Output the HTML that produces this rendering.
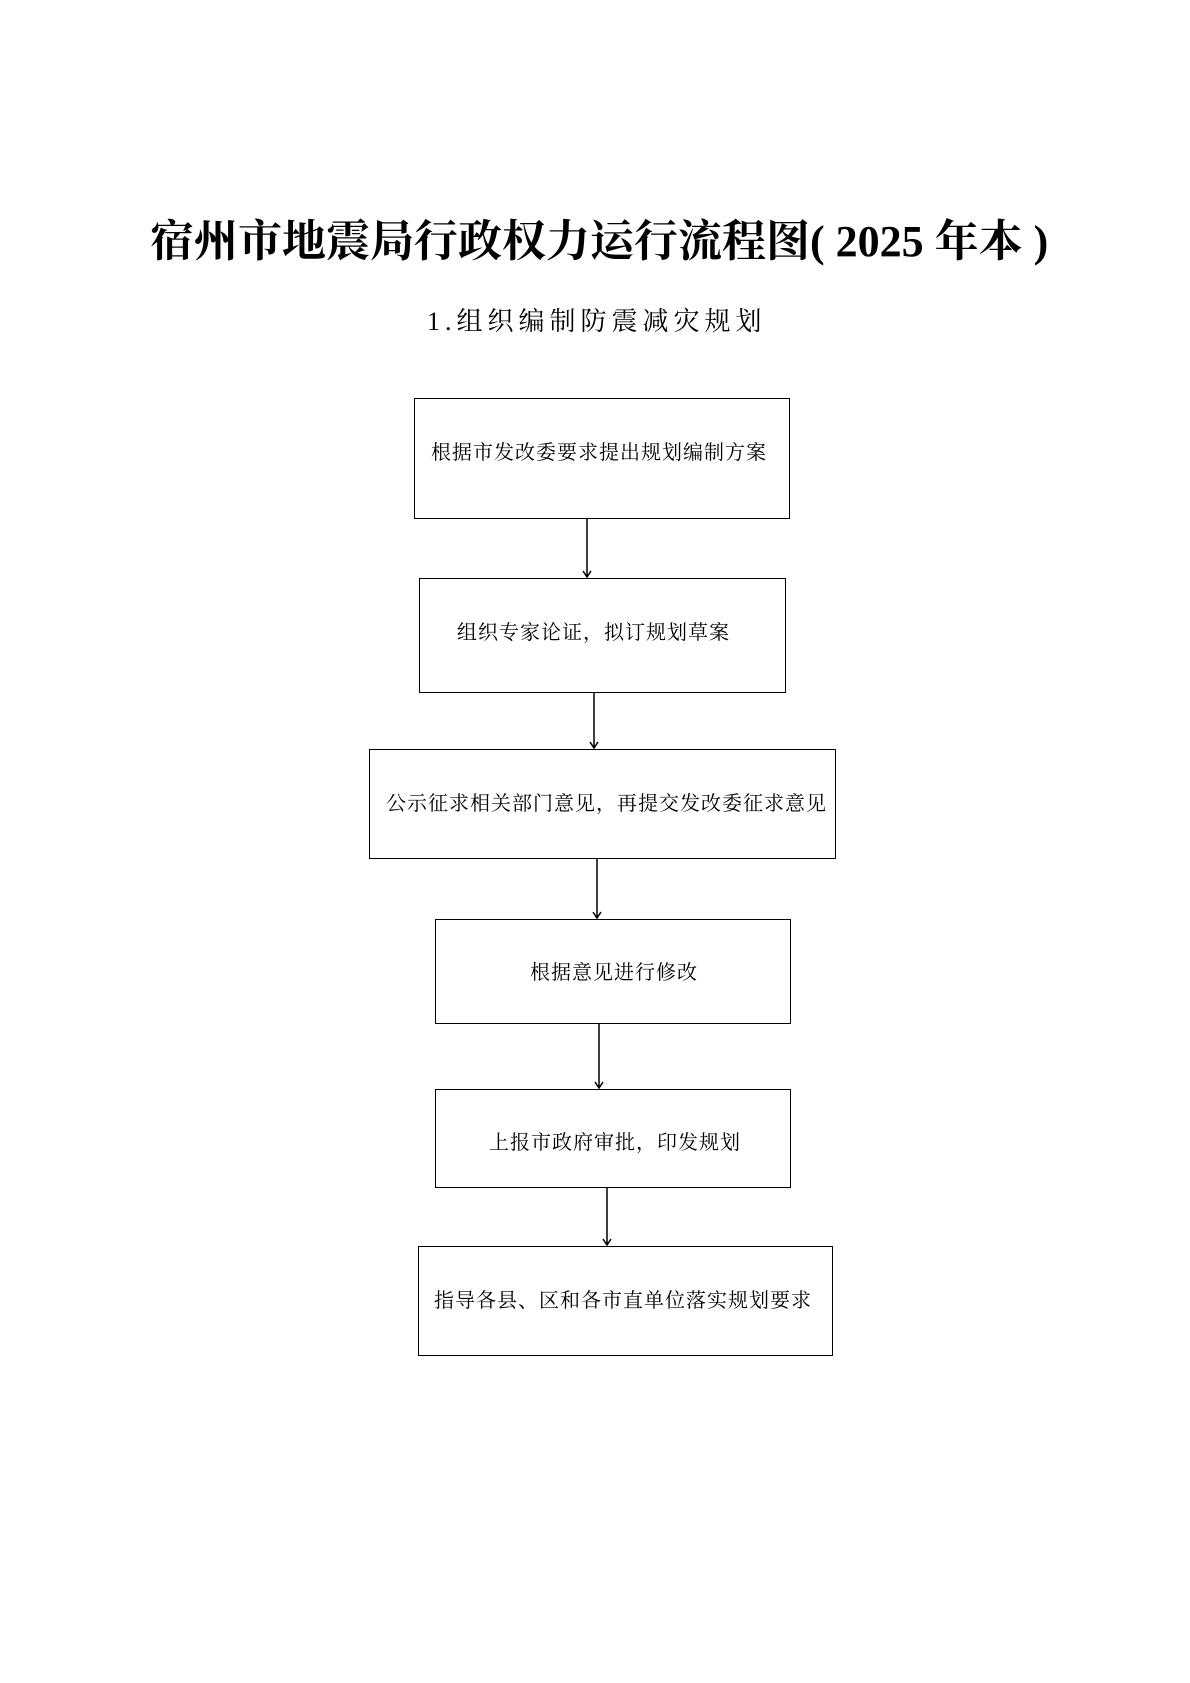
<!DOCTYPE html>
<html><head><meta charset="utf-8"><style>
body{margin:0;background:#fff;}
#p{position:relative;width:1190px;height:1683px;overflow:hidden;background:#fff;font-family:"Liberation Serif","Noto Serif CJK SC",serif;color:#000;}
.t{position:absolute;white-space:nowrap;}
.b{position:absolute;border:1.5px solid #000;box-sizing:border-box;}
.bt{position:absolute;white-space:nowrap;font-size:20px;line-height:20px;letter-spacing:1px;}
</style></head><body><div id="p">
<div class="t" style="left:150px;top:218px;font-size:44px;line-height:48px;font-weight:bold;letter-spacing:0px;">宿州市地震局行政权力运行流程图( 2025 年本 )</div>
<div class="t" style="left:427px;top:308px;font-size:26px;line-height:28px;letter-spacing:5px;">1.<span style="letter-spacing:5px">组织编制防震减灾规划</span></div>

<div class="b" style="left:414px;top:398px;width:376px;height:121px;"></div>
<div class="bt" style="left:431px;top:443px;">根据市发改委要求提出规划编制方案</div>
<div class="b" style="left:419px;top:578px;width:367px;height:115px;"></div>
<div class="bt" style="left:457px;top:623px;">组织专家论证，拟订规划草案</div>
<div class="b" style="left:369px;top:749px;width:467px;height:110px;"></div>
<div class="bt" style="left:386px;top:794px;">公示征求相关部门意见，再提交发改委征求意见</div>
<div class="b" style="left:435px;top:919px;width:356px;height:105px;"></div>
<div class="bt" style="left:530px;top:963px;">根据意见进行修改</div>
<div class="b" style="left:435px;top:1089px;width:356px;height:99px;"></div>
<div class="bt" style="left:489px;top:1133px;">上报市政府审批，印发规划</div>
<div class="b" style="left:418px;top:1246px;width:415px;height:110px;"></div>
<div class="bt" style="left:434px;top:1291px;">指导各县、区和各市直单位落实规划要求</div>

<svg width="1190" height="1683" style="position:absolute;left:0;top:0" fill="none" stroke="#000" stroke-width="1.5">
<path d="M587 519V577M583 571L587 577L591 571"/>
<path d="M594 693V748M590 742L594 748L598 742"/>
<path d="M597 859V918M593 912L597 918L601 912"/>
<path d="M599 1024V1088M595 1082L599 1088L603 1082"/>
<path d="M607 1188V1245M603 1239L607 1245L611 1239"/>
</svg>
</div></body></html>
